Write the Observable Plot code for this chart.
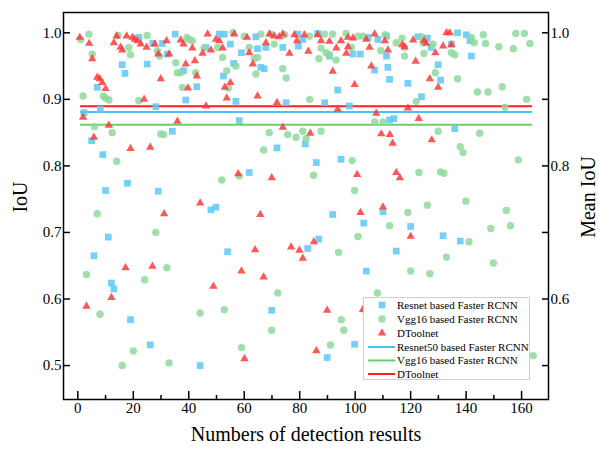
<!DOCTYPE html>
<html><head><meta charset="utf-8">
<script src="https://cdn.jsdelivr.net/npm/d3@7"></script>
<script src="https://cdn.jsdelivr.net/npm/@observablehq/plot@0.6"></script>
<style>
body{margin:0;background:#fff;}
#wrap{position:relative;width:599px;height:452px;font-family:"Liberation Serif",serif;}
#legend{position:absolute;left:363px;top:297px;}
</style></head><body><div id="wrap"></div>
<script>
// ---- data ----
const seriesNames = ["Resnet based Faster RCNN", "Vgg16 based Faster RCNN", "DToolnet"];
const meanNames = ["Resnet50 based Faster RCNN", "Vgg16 based Faster RCNN", "DToolnet"];
const meanValues = [0.881, 0.862, 0.8895];
const meanRange = [1, 164];
const xMajorTicks = [0, 20, 40, 60, 80, 100, 120, 140, 160];
const xMinorTicks = [10, 30, 50, 70, 90, 110, 130, 150];
const yTicks = [0.5, 0.6, 0.7, 0.8, 0.9, 1.0];
const yRightLabeled = [0.6, 0.8, 1.0];

const resnet = [
[35.1,0.998],[16,0.952],[17,0.939],[25,0.953],[7,0.918],[8.1,0.885],[2.2,0.88],[28.1,0.889],[38.9,0.899],[34.1,0.852],
[42.9,0.919],[38.1,0.943],[32.3,0.968],[22,0.993],[46.2,0.978],[51,0.998],[52.8,0.998],[27,0.984],[30.5,0.984],[5,0.838],
[55,0.983],[59,0.97],[64.2,0.994],[67.8,0.978],[64.8,0.976],[73.9,0.978],[79.3,0.998],[81.1,0.99],[79.5,0.98],[86.5,0.999],
[99.2,0.968],[101.9,0.968],[90.7,0.965],[104.6,0.993],[108.2,0.99],[111.3,0.995],[111.3,0.965],[107,0.944],[111.8,0.948],[112.4,0.93],
[52.5,0.935],[56.2,0.954],[66,0.948],[67.2,0.946],[93.7,0.914],[57,0.897],[75.1,0.895],[89,0.895],[97.9,0.89],[58.2,0.868],[112.4,0.869],
[122.6,0.994],[126,0.992],[136.9,1.0],[140.1,0.997],[141.4,0.988],[141.9,0.965],[127.4,0.978],[134.7,0.983],[129.9,0.952],[119,0.924],
[130.8,0.929],[123.9,0.904],[114,0.871],[135.9,0.856],
[9,0.817],[17.9,0.774],[10,0.763],[29,0.762],[48,0.734],[49.8,0.738],[11,0.693],[5.8,0.665],[54,0.671],
[71.8,0.827],[82,0.833],[86,0.805],[94.9,0.81],[61.8,0.79],[91.9,0.727],[103.1,0.714],[110,0.731],[86.9,0.69],[82.9,0.676],
[120,0.709],[131.7,0.695],[137.9,0.687],[114.8,0.672],
[12.1,0.624],[13,0.615],[19,0.569],[26.1,0.531],[44.1,0.5],
[104,0.642],[69.9,0.583],[99.8,0.532],[89.9,0.512]
];

const vgg16 = [
[1,0.99],[4,0.998],[5.2,0.968],[1.9,0.905],[9.2,0.905],[10,0.902],[11.2,0.899],[6,0.859],[12.4,0.85],[14.5,0.996],
[18.4,0.978],[19,0.967],[25,0.996],[28.7,0.973],[29.5,0.965],[35.3,0.955],[35.9,0.94],[37.1,0.94],[37.7,0.918],[39.3,0.993],
[40.1,0.99],[41.3,0.988],[42.5,0.94],[45.5,0.977],[50.4,0.978],[53.7,0.943],[54.3,0.917],[22,0.898],[29.9,0.848],[31,0.847],
[55.9,1.0],[60,0.995],[66,0.998],[69.6,0.998],[74.6,0.997],[83.5,0.995],[88.9,0.998],[91.9,0.998],[96.7,0.999],[101,0.995],
[102.8,0.995],[70.8,0.983],[61.8,0.978],[87.7,0.977],[89.5,0.97],[90.7,0.967],[98.6,0.978],[52.2,0.963],[57,0.95],[63.6,0.961],
[64.8,0.963],[64.2,0.938],[73.9,0.946],[75.1,0.932],[86.9,0.961],[93.1,0.959],[83.6,0.9],[109.2,0.973],[107,0.866],[110,0.866],
[69,0.85],[75.7,0.847],[78.7,0.843],[81.1,0.852],[82.3,0.841],[87.7,0.852],
[110.8,0.997],[114.8,0.985],[116.9,0.992],[117.8,0.978],[123.9,0.994],[124.5,0.985],[128.1,0.983],[124.8,0.969],[117.8,0.965],[134.7,0.97],
[135.9,0.967],[141.9,0.993],[142.9,0.985],[146.2,0.997],[147,0.984],[151.8,0.979],[157,0.976],[157.9,0.999],[161,0.999],[163,0.984],
[128.9,0.94],[136.9,0.931],[144.1,0.911],[147.9,0.911],[153,0.919],[122,0.897],[154,0.888],[161.8,0.9],[129.9,0.852],[144.9,0.849],
[14,0.807],[51.9,0.779],[7,0.728],[28.1,0.7],
[67,0.824],[98.9,0.808],[58.2,0.785],[85,0.786],[99.8,0.763],[101,0.694],[112.4,0.71],[94,0.67],
[137.9,0.829],[138.9,0.82],[158.8,0.809],[123,0.79],[130.8,0.791],[132,0.789],[139.9,0.747],[126,0.741],[119,0.73],[154.5,0.733],
[148.9,0.706],[156,0.71],[141,0.686],[132.9,0.663],
[3.1,0.637],[32.1,0.647],[24.1,0.629],[8,0.577],[44.1,0.579],[52.8,0.584],[20,0.522],[16,0.5],[32.9,0.504],
[72.1,0.609],[108,0.609],[95,0.569],[95.9,0.553],[69.9,0.553],[59,0.527],[91.1,0.531],[103.6,0.583],
[149.8,0.654],[120,0.642],[126.9,0.638],[164.2,0.515],[160.2,0.535]
];

const dtoolnet = [
[0.7,0.993],[4.1,0.984],[5.2,0.961],[7,0.933],[7.9,0.931],[8.8,0.925],[10,0.916],[1.9,0.873],[11.2,0.861],[5.8,0.843],
[14,0.995],[13,0.985],[15.4,0.978],[16,0.974],[17.6,0.995],[19.7,0.993],[20.5,0.99],[21.5,0.988],[22.7,0.983],[24.8,0.978],
[27.8,0.983],[29,0.968],[32,0.988],[32.9,0.968],[37.1,0.989],[38.1,0.983],[41.3,0.977],[38.9,0.953],[42.2,0.958],[42.9,0.935],
[29.9,0.931],[39.7,0.917],[23.9,0.9],[46.2,0.89],[35.9,0.867],[46.8,0.998],[45,0.969],[48,0.974],[49.8,0.99],[51,0.988],
[52.2,0.977],[53,0.918],[53.7,0.902],
[56.4,0.998],[61,0.993],[69.1,0.998],[70.8,0.995],[72.6,0.994],[73.9,0.998],[78.1,0.997],[79,0.988],[81.7,0.997],[86.5,0.997],
[87.7,0.988],[90.7,0.987],[94.9,0.988],[97.4,0.993],[99.2,0.992],[104,0.99],[107,0.998],[110.7,0.988],[67.8,0.985],[61.8,0.97],
[76.3,0.969],[83.1,0.972],[93.2,0.977],[97.4,0.979],[96.8,0.969],[105.2,0.978],[63.1,0.953],[91.9,0.942],[105.8,0.95],[99.8,0.922],
[55,0.925],[64.8,0.905],[71.8,0.895],[93.7,0.885],[107.6,0.879],[73.9,0.858],[83.8,0.849],[109.4,0.848],[112.5,0.847],
[111.8,0.974],[116.9,0.982],[117.8,0.979],[120.9,0.989],[124.8,0.988],[125.6,0.984],[128.9,0.97],[131.7,0.98],[134.7,0.982],[132.9,1.0],
[134.1,1.0],[121.8,0.957],[126.9,0.931],[129.9,0.918],[119,0.887],[122.9,0.871],[127.6,0.839],
[19,0.826],[26.1,0.828],[44.1,0.744],[31.1,0.728],
[57.8,0.788],[69.9,0.782],[100.7,0.787],[65.8,0.727],[101.9,0.73],[110,0.738],[63.9,0.674],[76.9,0.678],[79.9,0.673],[85.1,0.686],[81.1,0.661],
[113.5,0.834],[114.8,0.79],[116.1,0.782],[120,0.694],
[17.2,0.647],[26.9,0.649],[48.9,0.619],[12.1,0.602],[3.1,0.589],
[59,0.642],[67,0.633],[89.9,0.583],[102.8,0.584],[86,0.522],[60.1,0.51]
];

// ---- styling ----
const blue = "#5ec8f4", green = "#8fd89c", red = "#ff3b3b";
const lineColors = ["#4cc0f0", "#6ccf6c", "#ff2020"];
const font = "'Liberation Serif', 'Times New Roman', serif";

const means = meanNames.map((n, i) => ({name: n, v: meanValues[i], color: lineColors[i]}));

const chart = Plot.plot({
  width: 599, height: 452,
  marginLeft: 63, marginRight: 51, marginTop: 12, marginBottom: 53,
  x: {domain: [-5.16, 169.7]},
  y: {domain: [0.449, 1.0305]},
  style: {fontFamily: font, fontSize: "15px", color: "black", background: "white"},
  marks: [
    Plot.ruleY(means, {y: "v", x1: meanRange[0], x2: meanRange[1], stroke: "color", strokeWidth: 2}),
    Plot.dot(resnet, {x: d => d[0], y: d => d[1], symbol: "square", r: 3.8, fill: blue, fillOpacity: 0.85, stroke: "none"}),
    Plot.dot(vgg16, {x: d => d[0], y: d => d[1], symbol: "circle", r: 3.7, fill: green, fillOpacity: 0.85, stroke: "none"}),
    Plot.dot(dtoolnet, {x: d => d[0], y: d => d[1], symbol: "triangle", r: 3.1, fill: red, fillOpacity: 0.85, stroke: "none"}),
    Plot.frame({stroke: "black", strokeWidth: 1.5}),
    Plot.axisX({ticks: xMajorTicks, tickSize: -8, tickPadding: 11, strokeWidth: 1.5, label: null}),
    Plot.axisX({ticks: xMinorTicks, tickSize: -4, tickFormat: () => "", strokeWidth: 1.5, label: null}),
    Plot.axisY({anchor: "left", ticks: yTicks, tickSize: -7, tickPadding: 9, strokeWidth: 1.5, tickFormat: d3.format(".1f"), label: null}),
    Plot.axisY({anchor: "right", ticks: yTicks, tickSize: -7, tickPadding: 9, strokeWidth: 1.5,
      tickFormat: d => yRightLabeled.includes(d) ? d3.format(".1f")(d) : "", label: null}),
    Plot.text(["IoU"], {frameAnchor: "left", text: d => d, rotate: -90, textAnchor: "middle", dx: -43, dy: -9, fontSize: 20, fill: "black"}),
    Plot.text(["Mean IoU"], {frameAnchor: "right", text: d => d, rotate: -90, textAnchor: "middle", dx: 40, dy: -9, fontSize: 20, fill: "black"}),
    Plot.text(["Numbers of detection results"], {frameAnchor: "bottom", text: d => d, textAnchor: "middle", dy: 41, fontSize: 20, fill: "black"})
  ]
});
document.getElementById("wrap").appendChild(chart);

// ---- legend ----
const lg = d3.select("#wrap").append("svg").attr("id", "legend")
  .attr("width", 167).attr("height", 83);
lg.append("rect").attr("x", 0.5).attr("y", 0.5).attr("width", 166).attr("height", 82)
  .attr("fill", "white").attr("stroke", "#d0d0d0");
const rowY = [8, 22, 36, 50, 63.5, 77];
const symDefs = [
  {type: d3.symbolSquare, r: 3.8, color: blue},
  {type: d3.symbolCircle, r: 3.7, color: green},
  {type: d3.symbolTriangle, r: 3.1, color: red}
];
const labels = seriesNames.concat(meanNames);
labels.forEach((t, i) => {
  const y = rowY[i];
  if (i < 3) {
    const s = symDefs[i];
    lg.append("path").attr("d", d3.symbol(s.type, Math.PI * s.r * s.r)())
      .attr("transform", `translate(19,${y})`).attr("fill", s.color).attr("fill-opacity", 0.85);
  } else {
    lg.append("line").attr("x1", 5).attr("x2", 32).attr("y1", y).attr("y2", y)
      .attr("stroke", lineColors[i - 3]).attr("stroke-width", 2);
  }
  lg.append("text").attr("x", 34).attr("y", y).attr("dy", "0.35em")
    .style("font-family", font).style("font-size", "11px").attr("fill", "black").text(t);
});
</script></body></html>
